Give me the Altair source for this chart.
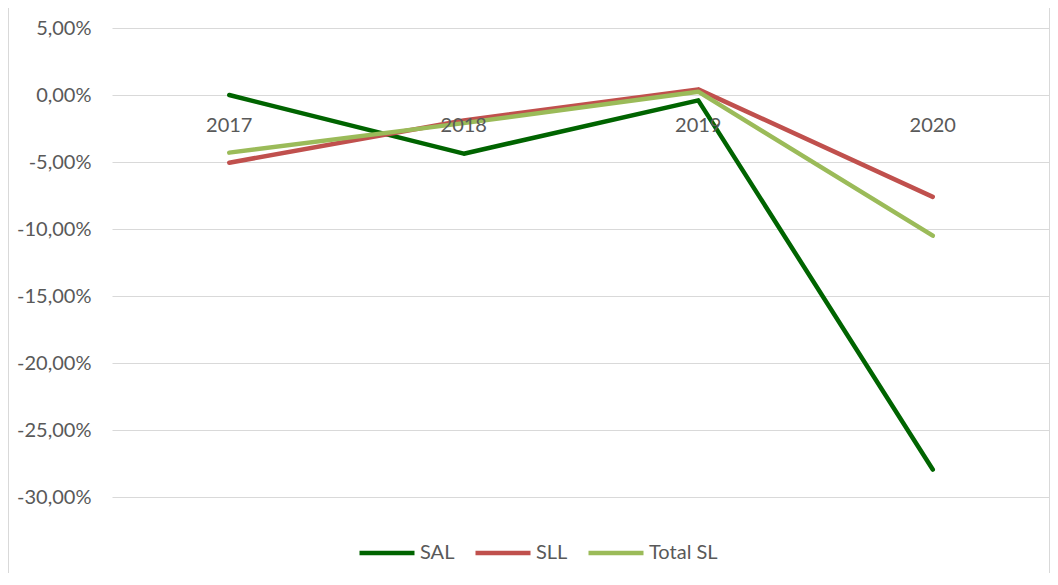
import altair as alt
import pandas as pd

years = ["2017", "2018", "2019", "2020"]
series_names = ["SAL", "SLL", "Total SL"]
sal = [0.0, -4.38, -0.40, -27.95]
sll = [-5.05, -1.90, 0.42, -7.60]
total_sl = [-4.30, -2.10, 0.25, -10.50]
colors = ["#006400", "#C0504D", "#9BBB59"]
y_ticks = [5, 0, -5, -10, -15, -20, -25, -30]

rows = []
for name, vals in zip(series_names, [sal, sll, total_sl]):
    for yr, v in zip(years, vals):
        rows.append({"year": yr, "series": name, "value": v})
df = pd.DataFrame(rows)
labels_df = pd.DataFrame({"year": years, "zero": [0] * len(years)})

W, H = 938, 469
FONT = "Lato"
TXT = "#595959"
FS = 20

x_enc = alt.X("year:O", axis=None, scale=alt.Scale(domain=years))

lines = alt.Chart(df).mark_line(strokeWidth=4.5, strokeCap="round", strokeJoin="round").encode(
    x=x_enc,
    y=alt.Y("value:Q", scale=alt.Scale(domain=[-30, 5], nice=False),
            axis=alt.Axis(values=y_ticks, title=None, domain=False, ticks=False,
                          grid=True, gridColor="#D9D9D9", gridWidth=1,
                          labelFont=FONT, labelFontSize=FS, labelColor=TXT, labelPadding=21,
                          labelExpr="(datum.value < 0 ? '-' : '') + replace(format(abs(datum.value), '.2f'), '.', ',') + '%'")),
    color=alt.Color("series:N", scale=alt.Scale(domain=series_names, range=colors),
                    legend=alt.Legend(title=None, orient="none", direction="horizontal",
                                      legendX=245, legendY=495,
                                      symbolType="stroke", symbolStrokeWidth=4.5, symbolSize=3025,
                                      labelFont=FONT, labelFontSize=FS, labelColor=TXT,
                                      labelOffset=3, columnPadding=11, symbolOffset=0)),
    order=alt.Order("series:N"),
)

xlabels = alt.Chart(labels_df).mark_text(font=FONT, fontSize=FS, color=TXT, dy=31, baseline="middle").encode(
    x=x_enc,
    y=alt.Y("zero:Q"),
    text="year:N",
)

frame = alt.Chart(labels_df).mark_rect(fill=None, stroke="#D9D9D9", strokeWidth=1, clip=False).encode(
    x=alt.value(-103.5), x2=alt.value(W - 0.5), y=alt.value(-20.5), y2=alt.value(H + 90),
)

chart = alt.layer(frame, lines, xlabels).properties(
    width=W, height=H,
    padding={"left": 104, "top": 20, "right": 0, "bottom": 76},
    autosize=alt.AutoSizeParams(type="none"),
    background="white",
).configure_view(strokeWidth=0, stroke="transparent")

chart.save("out.html", embed_options={"renderer": "svg", "actions": False})
